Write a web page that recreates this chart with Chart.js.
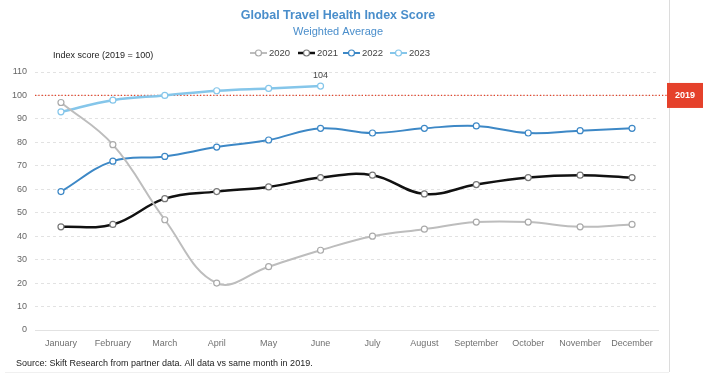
<!DOCTYPE html>
<html>
<head>
<meta charset="utf-8">
<script src="https://cdn.jsdelivr.net/npm/chart.js@4"></script>
<style>
html,body{margin:0;padding:0;background:#fff;}
#wrap{position:relative;width:711px;height:384px;}
</style>
</head>
<body>
<div id="wrap"><canvas id="c" width="711" height="384"></canvas></div>
<script>
const months = ["January","February","March","April","May","June","July","August","September","October","November","December"];
const yTicks = [0,10,20,30,40,50,60,70,80,90,100,110];
const s2020 = [97,79,47,20,27,34,40,43,46,46,44,45];
const s2021 = [44,45,56,59,61,65,66,58,62,65,66,65];
const s2022 = [59,72,74,78,81,86,84,86,87,84,85,86];
const s2023 = [93,98,100,102,103,104];
const seriesNames = ["2020","2021","2022","2023"];
const baseline = 100;
const baselineLabel = "2019";
const titleText = "Global Travel Health Index Score";
const subtitleText = "Weighted Average";
const yTitle = "Index score (2019 = 100)";
const sourceText = "Source: Skift Research from partner data. All data vs same month in 2019.";

const colors = ["#bdbdbd","#111111","#3d88c6","#85c6ea"];
const pointBorders = ["#aaaaaa","#777777","#3d88c6","#85c6ea"];
const widths = [2,2.5,2,2.5];
const FONT = "'Liberation Sans', Arial, sans-serif";

function ds(i, data){
  return {
    label: seriesNames[i], data: data,
    borderColor: colors[i], backgroundColor: colors[i],
    borderWidth: widths[i], tension: 0.4,
    pointRadius: 3, pointBorderWidth: 1.2,
    pointBackgroundColor: "#fff", pointBorderColor: pointBorders[i],
    fill: false
  };
}

const overlay = {
  id: "overlay",
  beforeDatasetsDraw(chart){
    const {ctx, chartArea, scales} = chart;
    const y = scales.y.getPixelForValue(baseline);
    ctx.save();
    ctx.strokeStyle = "#e2452c";
    ctx.lineWidth = 1.3;
    ctx.setLineDash([1.3,2]);
    ctx.beginPath(); ctx.moveTo(chartArea.left, y); ctx.lineTo(667, y); ctx.stroke();
    ctx.restore();
  },
  afterDraw(chart){
    const {ctx, scales} = chart;
    ctx.save();
    ctx.strokeStyle = "#dcdcdc"; ctx.lineWidth = 1;
    ctx.beginPath(); ctx.moveTo(669.5, 0); ctx.lineTo(669.5, 372); ctx.stroke();
    ctx.strokeStyle = "#f0f0f0";
    ctx.beginPath(); ctx.moveTo(5, 372.5); ctx.lineTo(669, 372.5); ctx.stroke();
    const y = scales.y.getPixelForValue(baseline);
    ctx.fillStyle = "#e5412b";
    ctx.fillRect(667, y - 12.5, 36, 25);
    ctx.fillStyle = "#fff"; ctx.font = "bold 9px " + FONT;
    ctx.textAlign = "center"; ctx.textBaseline = "middle";
    ctx.fillText(baselineLabel, 685, y + 0.5);
    ctx.fillStyle = "#4a8ecb"; ctx.font = "bold 12.5px " + FONT;
    ctx.fillText(titleText, 338, 16);
    ctx.font = "11px " + FONT;
    ctx.fillText(subtitleText, 338, 31.5);
    ctx.fillStyle = "#222"; ctx.font = "9px " + FONT; ctx.textAlign = "left";
    ctx.fillText(yTitle, 53, 56);
    ctx.fillText(sourceText, 16, 363.5);
    const lx = [250, 298, 343, 390];
    for (let i = 0; i < 4; i++) {
      const x0 = lx[i];
      ctx.strokeStyle = colors[i]; ctx.lineWidth = i===1?2.5:2;
      ctx.beginPath(); ctx.moveTo(x0, 53); ctx.lineTo(x0 + 17, 53); ctx.stroke();
      ctx.fillStyle = "#fff"; ctx.strokeStyle = pointBorders[i]; ctx.lineWidth = 1.2;
      ctx.beginPath(); ctx.arc(x0 + 8.5, 53, 3, 0, Math.PI*2); ctx.fill(); ctx.stroke();
      ctx.fillStyle = "#444"; ctx.font = "9.5px " + FONT; ctx.textAlign = "left";
      ctx.fillText(seriesNames[i], x0 + 19, 53.5);
    }
    const meta = chart.getDatasetMeta(3);
    const last = meta.data[s2023.length - 1];
    ctx.fillStyle = "#444"; ctx.font = "9px " + FONT; ctx.textAlign = "center";
    ctx.fillText(String(s2023[s2023.length - 1]), last.x, last.y - 11);
    ctx.restore();
  }
};

new Chart(document.getElementById("c"), {
  type: "line",
  data: { labels: months, datasets: [ds(0,s2020), ds(1,s2021), ds(2,s2022), ds(3,s2023)] },
  options: {
    responsive: false, animation: false, devicePixelRatio: 1,
    layout: { padding: { top: 72, right: 53, bottom: 0, left: 0 } },
    plugins: { legend: { display: false }, title: { display: false }, tooltip: { enabled: false } },
    scales: {
      x: {
        offset: true,
        grid: { display: false, drawTicks: false },
        border: { display: true, color: "#e2e2e2", width: 1 },
        ticks: { color: "#707070", font: { size: 9, family: FONT }, padding: 8, maxRotation: 0, autoSkip: false },
        afterFit(axis){ axis.height = 54; }
      },
      y: {
        min: 0, max: 110,
        afterBuildTicks(axis){ axis.ticks = yTicks.map(v => ({ value: v })); },
        grid: {
          drawTicks: false,
          color: ctx => ctx.tick && ctx.tick.value === 0 ? "rgba(0,0,0,0)" : "#e2e2e2",
          lineWidth: 1
        },
        border: { display: false, dash: [3,3] },
        ticks: { color: "#666", font: { size: 9, family: FONT }, padding: 8 },
        afterFit(axis){ axis.width = 35; }
      }
    }
  },
  plugins: [overlay]
});
</script>
</body>
</html>
